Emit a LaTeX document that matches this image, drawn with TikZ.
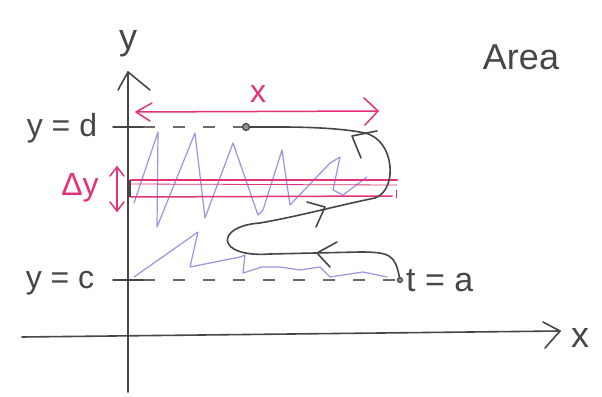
\documentclass[tikz,border=0pt]{standalone}
\usepackage{fontspec}
\setmainfont{Liberation Sans}
\begin{document}
\begin{tikzpicture}[x=1pt,y=-1pt,
  ink/.style={draw=inkc, line width=1.6pt, line cap=round, line join=round},
  pinkline/.style={draw=pinkc, line width=1.5pt, line cap=round, line join=round},
  blueline/.style={draw=bluec, line width=1.2pt, line cap=round, line join=round},
  dashline/.style={draw=inkc!80, line width=1.2pt, dash pattern=on 12pt off 18pt},
  lab/.style={text=inkc, font=\fontsize{32}{34}\selectfont, inner sep=0pt},
  plab/.style={text=pinkc, font=\fontsize{32}{34}\selectfont, inner sep=0pt},
  dot/.style={circle, draw=inkc, fill=inkc!60, line width=1.2pt, inner sep=0pt, minimum size=7pt}]
\definecolor{inkc}{RGB}{70,70,70}
\definecolor{pinkc}{RGB}{228,50,120}
\definecolor{bluec}{RGB}{150,150,225}
\fill[white] (0,0) rectangle (602,396);
\useasboundingbox (0,0) rectangle (602,396);

% coordinates
\coordinate (ybot) at (128,392);
\coordinate (ytop) at (128,72);
\coordinate (xl) at (22,337);
\coordinate (xr) at (560,331);
\coordinate (dL) at (113,127);
\coordinate (dR) at (143,127);
\coordinate (cL) at (113,280);
\coordinate (cR) at (143,280);
\node[dot] (tb) at (246,127) {};
\node[dot, minimum size=5pt] (ta) at (400,280) {};
\coordinate (cend) at (395,280);

% blue hatching
\draw[blueline] (134,203) -- (158,132) -- (157,227) -- (195,133) -- (205,218) -- (233,143)
  -- (258,215) -- (263,210) -- (282,150) -- (290,205) -- (330,163) -- (340,157) -- (333,190)
  -- (343,195) -- (367,177);
\draw[blueline] (134,277) -- (198,232) -- (190,267) -- (240,257) -- (245,255) -- (243,273)
  -- (262,267) -- (280,267) -- (300,270) -- (320,267) -- (330,277) -- (363,272) -- (387,277);

% dashed lines
\draw[dashline] (dR) -- (tb);
\draw[dashline] (cR) -- (cend);

% pink strip
\draw[pinkline, line width=2.4pt] (131,180) -- (397,180);
\draw[pinkline, line width=0.8pt] (131,184) -- (397,185);
\draw[pinkline] (131,197) -- (392,196);
\draw[pinkline, line width=0.8pt] (396,190) -- (396,198);

% axes
\draw[ink] (ybot) -- (ytop);
\draw[ink] (118,90) -- (ytop) -- (150,90);
\draw[ink] (xl) -- (xr);
\draw[ink] (543,322) -- (xr) -- (545,348);
\draw[ink] (dL) -- (dR);
\draw[ink] (cL) -- (cR);
\draw[draw=inkc, line width=4pt] (129,180) -- (129,197);

% pink x arrow
\coordinate (pxl) at (136,112);
\coordinate (pxr) at (378,111);
\draw[pinkline] (pxl) -- (pxr);
\draw[pinkline] (152,103) -- (pxl) -- (150,121);
\draw[pinkline] (364,98) -- (pxr) -- (365,125);
% pink delta y arrow
\coordinate (dyt) at (117,167);
\coordinate (dyb) at (117,211);
\draw[pinkline] (dyt) -- (dyb);
\draw[pinkline] (110,176) -- (dyt) -- (124,176);
\draw[pinkline] (110,202) -- (dyb) -- (124,202);

% curve
\draw[ink] (ta) .. controls (395,255) and (390,252) .. (360,252) -- (270,254)
  .. controls (215,258) and (215,226) .. (260,223)
  .. controls (300,216) and (340,205) .. (375,198)
  .. controls (398,190) and (395,140) .. (365,133)
  .. controls (330,126) and (280,127) .. (tb);
% arrow marks on curve
\draw[ink] (377,131) -- (352,136) -- (361,158);
\draw[ink] (307,202) -- (325,207) -- (316,227);
\draw[ink] (337,242) -- (317,253) -- (330,267);

% labels
\node[lab, font=\fontsize{36}{38}\selectfont] (ylab) at (128,44) {y};
\node[lab, font=\fontsize{36}{38}\selectfont] (xlab) at (580,338) {x};
\node[lab, font=\fontsize{36}{38}\selectfont] (area) at (521,57) {Area};
\node[lab] (ydlab) at (62,128) {y = d};
\node[lab] (yclab) at (60,283) {y = c};
\node[lab, anchor=west, font=\fontsize{34}{36}\selectfont] (talab) at (406,281) {t = a};
\node[plab] (dylab) at (80,188) {Δy};
\node[plab] (pxlab) at (258,94) {x};
\end{tikzpicture}
\end{document}
